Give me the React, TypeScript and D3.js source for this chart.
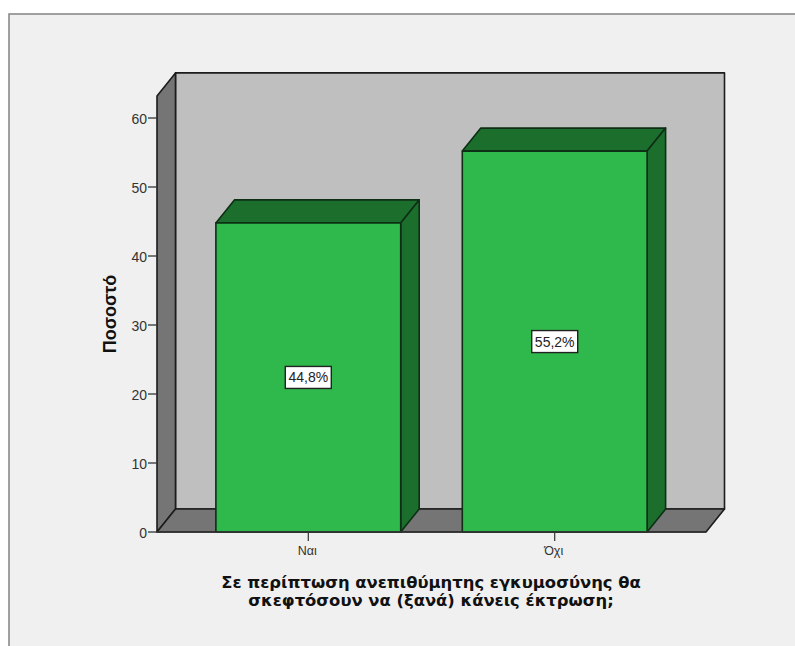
import React from "react";
import * as d3 from "d3";

const categories = ["Ναι", "Όχι"];
const percentages = [44.8, 55.2];
const valueLabels = ["44,8%", "55,2%"];
const yTicks = [0, 10, 20, 30, 40, 50, 60];
const xTitleLines = [
  "Σε περίπτωση ανεπιθύμητης εγκυμοσύνης θα",
  "σκεφτόσουν να (ξανά) κάνεις έκτρωση;",
];
const yTitle = "Ποσοστό";

const WIDTH = 795;
const HEIGHT = 646;

// Oblique offset of the 3D box: front plane to back plane.
const DX = 18.5;
const DY = -23;

const INK = "#1c1c1c";
const FRAME_BG = "#f0f0f0";
const WALL = "#bfbfbf";
const SHADE = "#757575";
const BAR_FRONT = "#2fb94c";
const BAR_SIDE = "#1c6e2d";
const SANS = "'Liberation Sans', Arial, sans-serif";
const TITLE_FONT = "'DejaVu Sans', Verdana, sans-serif";

const y = d3.scaleLinear().domain([0, 60]).range([532, 118]);
const x = d3
  .scaleBand<string>()
  .domain(categories)
  .range([157, 706])
  .paddingInner(0.25)
  .paddingOuter(0.239);

const poly = (pts: [number, number][]) => d3.line()(pts) + "Z";

export default function App() {
  const frontTop = y(63.2);
  const frontBottom = y(0);
  const left = 157;
  const right = 706;

  return (
    <svg
      width={WIDTH}
      height={HEIGHT}
      viewBox={`0 0 ${WIDTH} ${HEIGHT}`}
      style={{ position: "absolute", left: 0, top: 0, display: "block" }}
    >
      <rect width={WIDTH} height={HEIGHT} fill="#ffffff" />
      <rect x={9} y={14} width={WIDTH} height={HEIGHT} fill={FRAME_BG} stroke="#8a8a8a" strokeWidth={1.6} />

      {/* Back wall, side wall and floor of the box */}
      <g stroke={INK} strokeWidth={1.6} strokeLinejoin="round">
        <rect x={left + DX} y={frontTop + DY} width={right - left} height={frontBottom - frontTop} fill={WALL} />
        <path
          d={poly([
            [left, frontTop],
            [left + DX, frontTop + DY],
            [left + DX, frontBottom + DY],
            [left, frontBottom],
          ])}
          fill={SHADE}
        />
        <path
          d={poly([
            [left, frontBottom],
            [left + DX, frontBottom + DY],
            [right + DX, frontBottom + DY],
            [right, frontBottom],
          ])}
          fill={SHADE}
        />
      </g>

      {/* Extruded bars */}
      {categories.map((c, i) => {
        const x0 = x(c)!;
        const x1 = x0 + x.bandwidth();
        const top = y(percentages[i]);
        return (
          <g key={c} stroke="#0d2f15" strokeWidth={1.6} strokeLinejoin="round">
            <path
              d={poly([
                [x0, top],
                [x0 + DX, top + DY],
                [x1 + DX, top + DY],
                [x1, top],
              ])}
              fill={BAR_SIDE}
            />
            <path
              d={poly([
                [x1, top],
                [x1 + DX, top + DY],
                [x1 + DX, frontBottom + DY],
                [x1, frontBottom],
              ])}
              fill={BAR_SIDE}
            />
            <rect x={x0} y={top} width={x1 - x0} height={frontBottom - top} fill={BAR_FRONT} />
          </g>
        );
      })}

      {/* Axes */}
      <line x1={left} x2={right} y1={frontBottom} y2={frontBottom} stroke="#333" strokeWidth={1.6} />
      {yTicks.map((t) => (
        <g key={t}>
          <line x1={left - 9} x2={left} y1={y(t)} y2={y(t)} stroke="#333" strokeWidth={1.3} />
          <text x={left - 10} y={y(t) + 6} textAnchor="end" fontFamily={SANS} fontSize={14} fill="#333">
            {t}
          </text>
        </g>
      ))}
      {categories.map((c) => {
        const cx = x(c)! + x.bandwidth() / 2;
        return (
          <g key={c}>
            <line x1={cx} x2={cx} y1={frontBottom} y2={frontBottom + 9} stroke="#333" strokeWidth={1.2} />
            <text x={cx - 1} y={frontBottom + 23} textAnchor="middle" fontFamily={SANS} fontSize={12.5} fill="#333">
              {c}
            </text>
          </g>
        );
      })}

      {/* Value tags at the mid-height of each bar */}
      {categories.map((c, i) => {
        const cx = x(c)! + x.bandwidth() / 2;
        const cy = y(percentages[i] / 2);
        return (
          <g key={c}>
            <rect x={cx - 23} y={cy - 11} width={46} height={22} fill="#fff" stroke="#222" strokeWidth={1.4} />
            <text x={cx} y={cy + 5} textAnchor="middle" fontFamily={SANS} fontSize={14} fill="#222">
              {valueLabels[i]}
            </text>
          </g>
        );
      })}

      {/* Axis titles */}
      <text
        transform="translate(116,314) rotate(-90)"
        textAnchor="middle"
        fontFamily={SANS}
        fontWeight={700}
        fontSize={18}
        fill="#111"
      >
        {yTitle}
      </text>
      {xTitleLines.map((line, i) => (
        <text
          key={i}
          x={431}
          y={587.5 + i * 18.5}
          textAnchor="middle"
          fontFamily={TITLE_FONT}
          fontWeight={700}
          fontSize={16.4}
          fill="#111"
        >
          {line}
        </text>
      ))}
    </svg>
  );
}
